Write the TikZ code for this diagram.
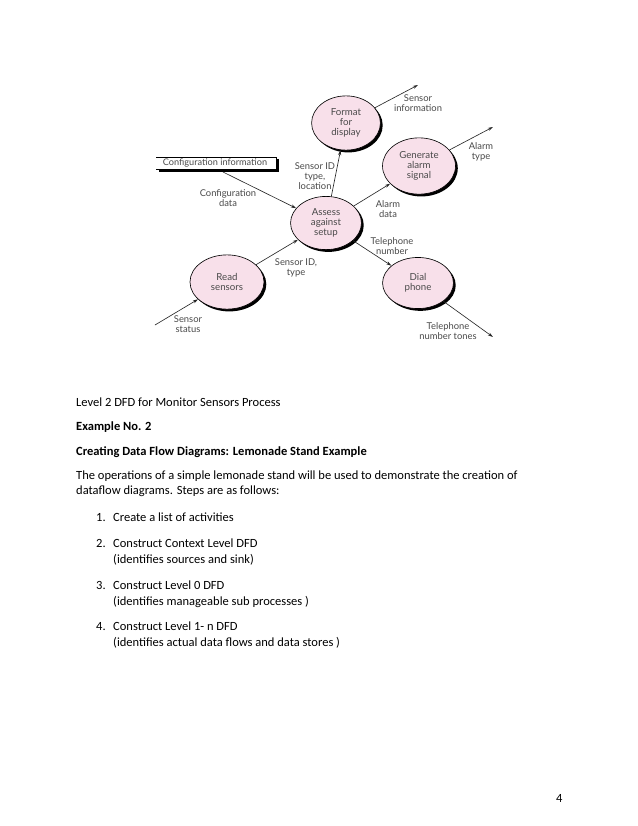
\documentclass[tikz,border=0pt]{standalone}
\usepackage{fontspec}
\setmainfont{Carlito}
\newfontfamily\dfont{Lato}
\usetikzlibrary{shapes.geometric,shadows,arrows.meta}
\definecolor{pinkfill}{HTML}{F8E0EA}
\definecolor{dgray}{HTML}{4A4A4A}
\begin{document}
\begin{tikzpicture}[x=0.9592pt,y=-0.9592pt,
  proc/.style={ellipse, draw=black, line width=0.6pt, fill=pinkfill, inner sep=0pt, align=center,
    font=\dfont\fontsize{9.3}{9.4}\selectfont, text=dgray,
    drop shadow={shadow xshift=2.2pt, shadow yshift=-2.2pt, fill=black, opacity=1}},
  flow/.style={-{Stealth[length=5pt,width=3pt]}, line width=0.6pt, draw=black!85},
  lbl/.style={align=center, font=\dfont\fontsize{9}{9.4}\selectfont, text=dgray, inner sep=0pt},
  body/.style={anchor=base west, font=\fontsize{12}{14}\selectfont, inner sep=0pt},
]
\path[use as bounding box, fill=white] (0,0) rectangle (638,826);

% processes
\node[proc, minimum width=66pt, minimum height=52pt] (format) at (346,123) {Format\\for\\display};
\node[proc, minimum width=70pt, minimum height=54pt] (generate) at (419,166) {Generate\\alarm\\signal};
\node[proc, minimum width=68pt, minimum height=51pt] (assess) at (326,223) {Assess\\against\\setup};
\node[proc, minimum width=71pt, minimum height=52pt] (read) at (227,282) {Read\\sensors};
\node[proc, minimum width=68pt, minimum height=49pt] (dial) at (418,283) {Dial\\phone};

% data store
\node[lbl, font=\dfont\fontsize{8.8}{9.4}\selectfont] (cfg) at (215,163) {Configuration information};
\draw[line width=0.6pt] (156,157) -- (276,157);
\draw[line width=0.6pt] (156,169) -- (276,169) -- (276,157);
\draw[line width=2.2pt] (159,171.3) -- (278.3,171.3) -- (278.3,159);

% free ends
\coordinate (cfgout) at (223,172);
\coordinate (sinfo) at (418,85);
\coordinate (atype) at (493,127);
\coordinate (ttones) at (493,337);
\coordinate (sstat) at (155,325);

% flows
\draw[flow] (cfgout) -- (assess);
\draw[flow] (assess) -- (format);
\draw[flow] (format) -- (sinfo);
\draw[flow] (generate) -- (atype);
\draw[flow] (assess) -- (generate);
\draw[flow] (assess) -- (dial);
\draw[flow] (dial) -- (ttones);
\draw[flow] (read) -- (assess);
\draw[flow] (sstat) -- (read);

% flow labels
\node[lbl] (lcfg) at (228,198) {Configuration\\data};
\node[lbl] (lsid) at (315,176) {Sensor ID\\type,\\location};
\node[lbl] (lsinfo) at (418,103) {Sensor\\information};
\node[lbl] (latype) at (481,152) {Alarm\\type};
\node[lbl] (ladata) at (388,209) {Alarm\\data};
\node[lbl] (ltel) at (392,246) {Telephone\\number};
\node[lbl] (ltones) at (448,331) {Telephone\\number tones};
\node[lbl] (lsidt) at (296,268) {Sensor ID,\\type};
\node[lbl] (lstat) at (188,324) {Sensor\\status};

% body text
\node[body] (t1) at (76,406) {Level 2 DFD for Monitor Sensors Process};
\node[body] (t2) at (76,430) {\bfseries Example No. 2};
\node[body] (t3) at (76,455) {\bfseries Creating Data Flow Diagrams: Lemonade Stand Example};
\node[body] (t4) at (76,479) {The operations of a simple lemonade stand will be used to demonstrate the creation of};
\node[body] (t5) at (76,494) {dataflow diagrams. Steps are as follows:};
\node[body] (n1) at (96,521) {1.};
\node[body] (i1) at (113,521) {Create a list of activities};
\node[body] (n2) at (96,547) {2.};
\node[body] (i2) at (113,547) {Construct Context Level DFD};
\node[body] (i2b) at (113,563) {(identifies sources and sink)};
\node[body] (n3) at (96,589) {3.};
\node[body] (i3) at (113,589) {Construct Level 0 DFD};
\node[body] (i3b) at (113,605) {(identifies manageable sub processes )};
\node[body] (n4) at (96,630) {4.};
\node[body] (i4) at (113,630) {Construct Level 1- n DFD};
\node[body] (i4b) at (113,646) {(identifies actual data flows and data stores )};
\node[body] (pg) at (556,802) {4};
\end{tikzpicture}
\end{document}
